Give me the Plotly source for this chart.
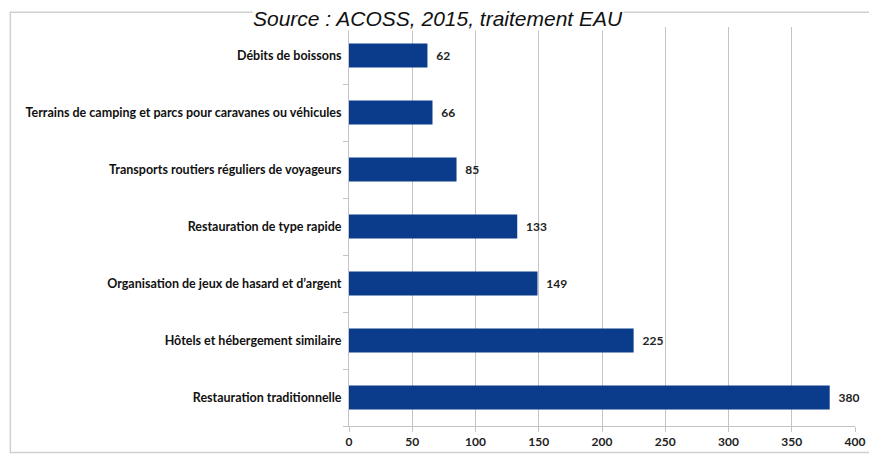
import plotly.graph_objects as go

categories = [
    "Restauration traditionnelle",
    "Hôtels et hébergement similaire",
    "Organisation de jeux de hasard et d’argent",
    "Restauration de type rapide",
    "Transports routiers réguliers de voyageurs",
    "Terrains de camping et parcs pour caravanes ou véhicules",
    "Débits de boissons",
]
values = [380, 225, 149, 133, 85, 66, 62]
x_ticks = [0, 50, 100, 150, 200, 250, 300, 350, 400]
title_text = "Source : ACOSS, 2015, traitement EAU"

OFF = 8  # page body margin
W, H = 877 - OFF, 461 - OFF
L, R, T, B = 349 - OFF, 20, 27 - OFF, 29
pw, ph = W - L - R, H - T - B

def px_x(p):
    return (p - OFF - L) / pw

def px_y(p):
    return 1 - (p - OFF - T) / ph

lab_font = dict(family="Lato", size=12.5, color="#111", weight="bold")

fig = go.Figure(go.Bar(
    x=values, y=categories, orientation="h",
    marker=dict(color="#0b3c8c", line=dict(width=0)),
    width=0.42,
    text=values, texttemplate="  %{x}", textposition="outside",
    textfont=dict(family="Lato", size=12, color="#222", weight="bold"),
    cliponaxis=False,
))

fig.update_layout(
    width=W, height=H,
    margin=dict(l=L, r=R, t=T, b=B),
    paper_bgcolor="white", plot_bgcolor="white",
    showlegend=False,
    xaxis=dict(
        range=[0, 400], tickvals=x_ticks, showgrid=True,
        gridcolor="#c4c4c4", gridwidth=1, zeroline=False,
        showline=True, linecolor="#c4c4c4", ticks="outside", ticklen=5,
        tickcolor="#c4c4c4",
        tickfont=dict(family="Lato", size=12, color="#222", weight="bold"),
    ),
    yaxis=dict(
        categoryorder="array", categoryarray=categories,
        showline=True, linecolor="#c4c4c4", ticks="outside", ticklen=5,
        tickcolor="#c4c4c4", tickson="boundaries", showgrid=False,
        tickfont=lab_font,
        ticklabelstandoff=4,
    ),
    shapes=[dict(
        type="rect", xref="paper", yref="paper",
        x0=px_x(9), x1=px_x(875), y0=px_y(459), y1=px_y(12),
        line=dict(color="#cfcfcf", width=1.5), layer="below",
    )],
    annotations=[dict(
        text=title_text, xref="paper", yref="paper",
        x=px_x(438), y=px_y(18), xanchor="center", yanchor="middle",
        showarrow=False, borderpad=0,
        font=dict(family="Liberation Sans", size=21, color="#111", style="italic"),
        bgcolor="white",
    )],
)

fig.write_html("out.html")
